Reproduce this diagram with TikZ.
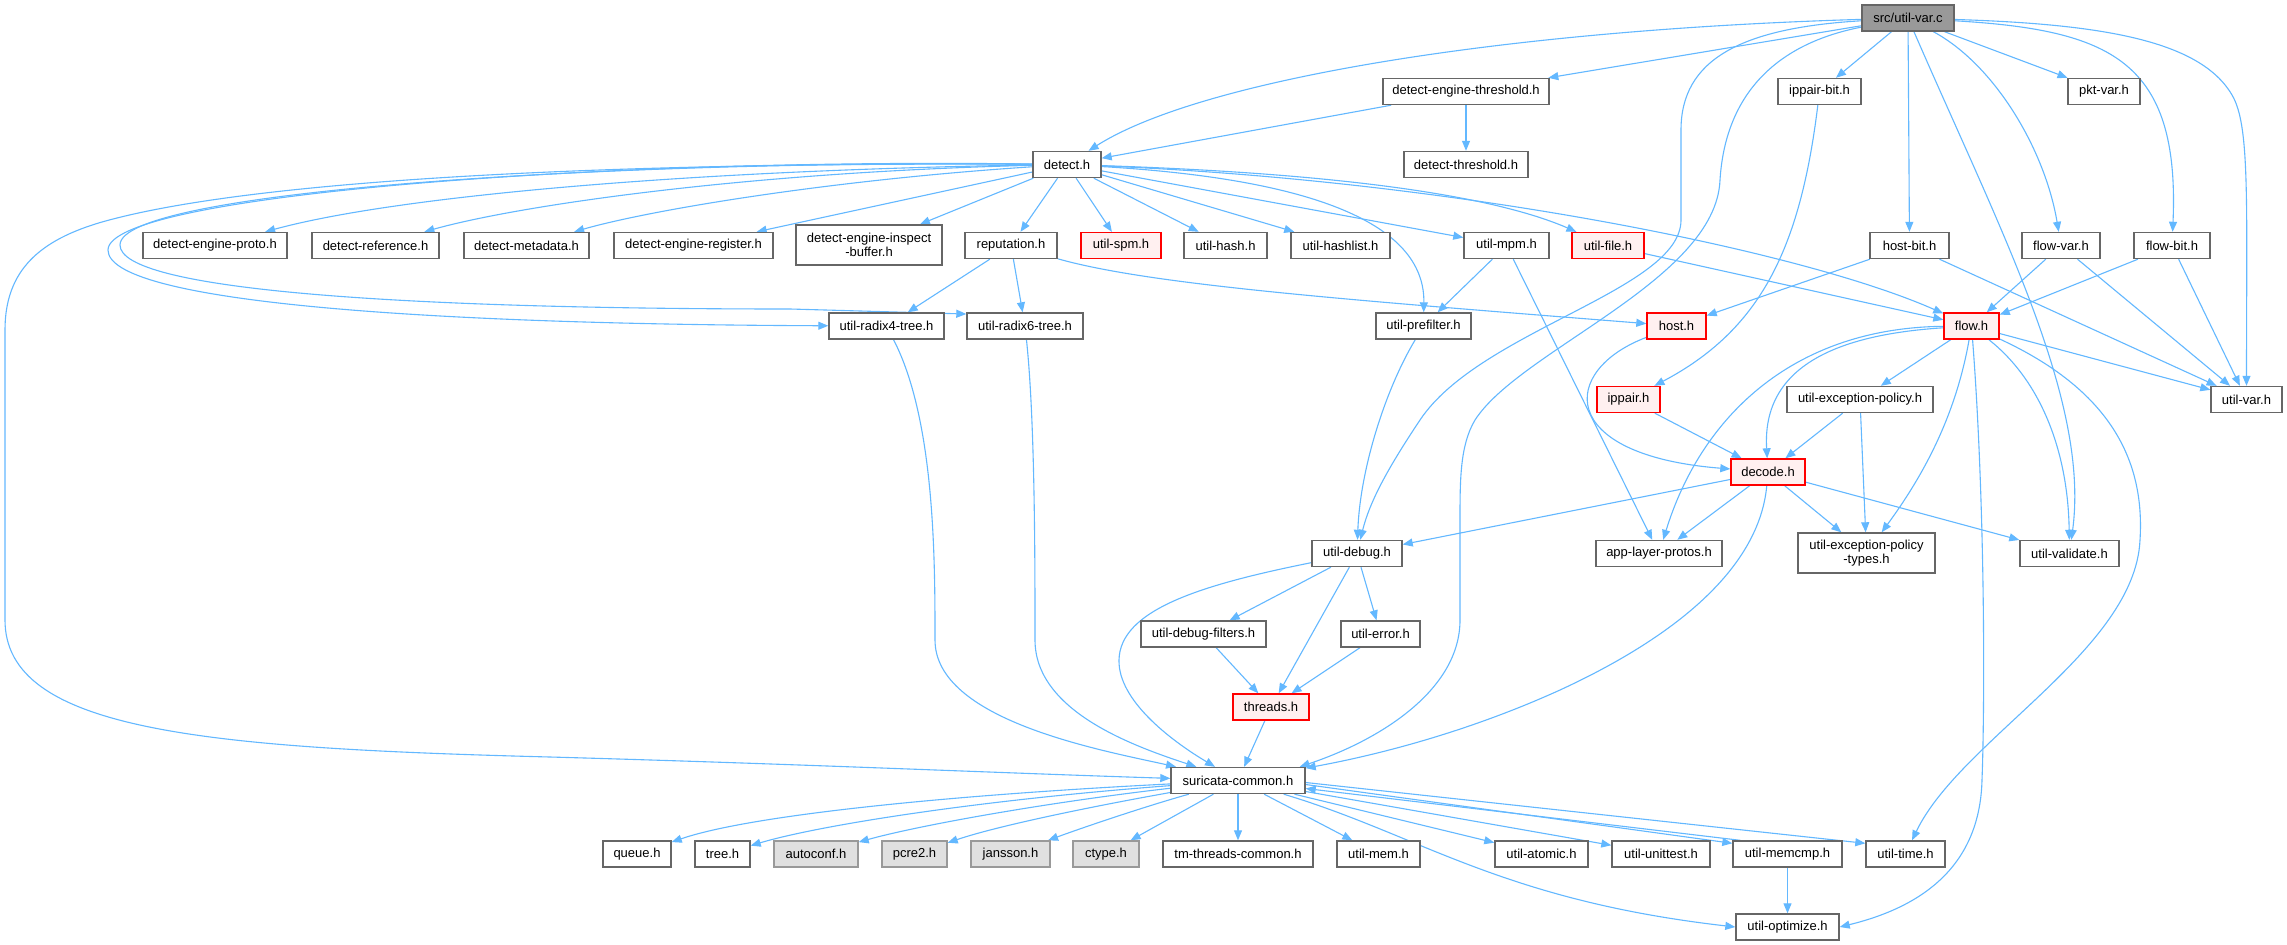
\documentclass[tikz,border=0pt]{standalone}
\usepackage{fontspec}
\setmainfont{Liberation Sans}
\usetikzlibrary{arrows.meta}
\pgfdeclarelayer{bg}
\pgfsetlayers{bg,main}
\definecolor{edgec}{HTML}{63B8FF}
\definecolor{bord}{HTML}{666666}
\definecolor{redfill}{HTML}{FFF0F0}
\definecolor{grayfill}{HTML}{E0E0E0}
\definecolor{graybord}{HTML}{999999}
\definecolor{srcfill}{HTML}{999999}
\begin{document}
\begin{tikzpicture}[x=1pt,y=-1pt,
 box/.style={draw=bord, line width=1.4pt, fill=white, minimum height=26pt, inner sep=0pt, font=\fontsize{13}{14}\selectfont, align=center},
 tall/.style={minimum height=40pt},
 redbox/.style={box, draw=red, fill=redfill},
 graybox/.style={box, draw=graybord, fill=grayfill},
 srcbox/.style={box, fill=srcfill},
 lnk/.style={draw=edgec, line width=1.1pt, -{Triangle[length=10pt,width=8pt]}}]
\useasboundingbox (0,0) rectangle (2287,945);
% row 0-2
\node[srcbox, minimum width=92pt] (n0) at (1908,18) {src/util-var.c};
\node[box, minimum width=166pt] (n1) at (1466,91.5) {detect-engine-threshold.h};
\node[box, minimum width=83pt] (n2) at (1819.5,91.5) {ippair-bit.h};
\node[box, minimum width=72pt] (n3) at (2104,91.5) {pkt-var.h};
\node[box, minimum width=68pt] (n4) at (1067,164.5) {detect.h};
\node[box, minimum width=124pt] (n5) at (1466,164.5) {detect-threshold.h};
% row 3
\node[box, minimum width=144pt] (n6) at (215,245.5) {detect-engine-proto.h};
\node[box, minimum width=127pt] (n7) at (375.5,245.5) {detect-reference.h};
\node[box, minimum width=125pt] (n8) at (526.5,245.5) {detect-metadata.h};
\node[box, minimum width=159pt] (n9) at (693.5,245.5) {detect-engine-register.h};
\node[box, tall, minimum width=146pt] (n10) at (869,245) {detect-engine-inspect\\-buffer.h};
\node[box, minimum width=92pt] (n11) at (1011,245.5) {reputation.h};
\node[redbox, minimum width=80pt] (n12) at (1121,245.5) {util-spm.h};
\node[box, minimum width=83pt] (n13) at (1225.5,245.5) {util-hash.h};
\node[box, minimum width=99pt] (n14) at (1340.5,245.5) {util-hashlist.h};
\node[box, minimum width=85pt] (n15) at (1506.5,245.5) {util-mpm.h};
\node[redbox, minimum width=72pt] (n16) at (1608,245.5) {util-file.h};
\node[box, minimum width=79pt] (n17) at (1909.5,245.5) {host-bit.h};
\node[box, minimum width=78pt] (n18) at (2061,245.5) {flow-var.h};
\node[box, minimum width=76pt] (n19) at (2172,245.5) {flow-bit.h};
% row 4
\node[box, minimum width=115pt] (n20) at (886.5,326) {util-radix4-tree.h};
\node[box, minimum width=116pt] (n21) at (1025,326) {util-radix6-tree.h};
\node[box, minimum width=95pt] (n22) at (1423.5,326) {util-prefilter.h};
\node[redbox, minimum width=59pt] (n23) at (1676.5,326) {host.h};
\node[redbox, minimum width=55pt] (n24) at (1971.5,326) {flow.h};
% row 5
\node[redbox, minimum width=63pt] (n25) at (1628.5,399.5) {ippair.h};
\node[box, minimum width=146pt] (n26) at (1860,399.5) {util-exception-policy.h};
\node[box, minimum width=71pt] (n27) at (2246.5,399.5) {util-var.h};
% row 6
\node[redbox, minimum width=74pt] (n28) at (1768,472) {decode.h};
% row 7
\node[box, minimum width=90pt] (n29) at (1357,553.5) {util-debug.h};
\node[box, minimum width=126pt] (n30) at (1659,553.5) {app-layer-protos.h};
\node[box, tall, minimum width=137pt] (n31) at (1866.5,553) {util-exception-policy\\-types.h};
\node[box, minimum width=99pt] (n32) at (2069.5,553.5) {util-validate.h};
% row 8-10
\node[box, minimum width=125pt] (n33) at (1203.5,634) {util-debug-filters.h};
\node[box, minimum width=79pt] (n34) at (1380.5,634) {util-error.h};
\node[redbox, minimum width=76pt] (n35) at (1271,707) {threads.h};
\node[box, minimum width=134pt] (n36) at (1238,780.5) {suricata-common.h};
% row 11
\node[box, minimum width=68pt] (n37) at (637,854) {queue.h};
\node[box, minimum width=55pt] (n38) at (722.5,854) {tree.h};
\node[graybox, minimum width=84pt] (n39) at (816,854) {autoconf.h};
\node[graybox, minimum width=65pt] (n40) at (914.5,854) {pcre2.h};
\node[graybox, minimum width=79pt] (n41) at (1010.5,854) {jansson.h};
\node[graybox, minimum width=66pt] (n42) at (1106,854) {ctype.h};
\node[box, minimum width=150pt] (n43) at (1238,854) {tm-threads-common.h};
\node[box, minimum width=83pt] (n44) at (1378.5,854) {util-mem.h};
\node[box, minimum width=93pt] (n45) at (1541.5,854) {util-atomic.h};
\node[box, minimum width=98pt] (n46) at (1661,854) {util-unittest.h};
\node[box, minimum width=109pt] (n47) at (1787.5,854) {util-memcmp.h};
\node[box, minimum width=79pt] (n48) at (1905.5,854) {util-time.h};
\node[box, minimum width=103pt] (n49) at (1787.5,927) {util-optimize.h};

\begin{pgfonlayer}{bg}
\fill[white] (0,0) rectangle (2287,945);
% src/util-var.c
\draw[lnk] (n0) .. controls (1500,30) and (1200,80) .. (n4);
\draw[lnk] (n0) -- (n1);
\draw[lnk] (n0) -- (n2);
\draw[lnk] (n0) -- (n3);
\draw[lnk] (n0) -- (n17);
\draw[lnk] (n0) .. controls (1995,65) and (2045,150) .. (n18);
\draw[lnk] (n0) .. controls (2110,30) and (2180,60) .. (n19);
\draw[lnk] (n0) .. controls (2100,24) and (2200,40) .. (2232,95) .. controls (2250,125) and (2246.5,200) .. (n27);
\draw[lnk] (n0) .. controls (2000,230) and (2090,400) .. (n32);
\draw[lnk] (n0) .. controls (1740,28) and (1681,60) .. (1681,130) -- (1681,220) .. controls (1681,290) and (1480,330) .. (1420,420) .. controls (1390,465) and (1370,500) .. (n29);
\draw[lnk] (n0) .. controls (1770,45) and (1725,100) .. (1720,180) .. controls (1716,280) and (1520,350) .. (1475,420) .. controls (1460,445) and (1460,480) .. (1460,520) -- (1460,620) .. controls (1460,690) and (1380,740) .. ([xshift=-6pt]n36.north east);
% detect-engine-threshold.h
\draw[lnk] (n1) -- (n4);
\draw[lnk] (n1) -- (n5);
% detect.h
\draw[lnk] (n4) .. controls (700,170) and (400,195) .. (n6);
\draw[lnk] (n4) .. controls (750,172) and (520,205) .. (n7);
\draw[lnk] (n4) .. controls (830,180) and (650,210) .. (n8);
\draw[lnk] (n4) -- (n9);
\draw[lnk] (n4) -- (n10);
\draw[lnk] (n4) -- (n11);
\draw[lnk] (n4) -- (n12);
\draw[lnk] (n4) -- (n13);
\draw[lnk] (n4) -- (n14);
\draw[lnk] (n4) -- (n15);
\draw[lnk] (n4) .. controls (1300,172) and (1480,190) .. (n16);
\draw[lnk] (n4) .. controls (1450,180) and (1800,250) .. (n24);
\draw[lnk] (n4) .. controls (1330,180) and (1425,230) .. (n22);
\draw[lnk] (n4) .. controls (600,158) and (108,195) .. (108,250) .. controls (108,300) and (400,324) .. (n20);
\draw[lnk] (n4) .. controls (620,160) and (120,190) .. (120,245) .. controls (120,290) and (400,309) .. (790,309) -- ([yshift=12pt]n21.west);
\draw[lnk] (n4) .. controls (600,162) and (250,180) .. (102,222) .. controls (40,240) and (5,270) .. (5,330) -- (5,620) .. controls (5,730) and (200,748) .. (550,757) .. controls (800,764) and (1000,773) .. (n36);
% reputation.h
\draw[lnk] (n11) -- (n20);
\draw[lnk] (n11) -- (n21);
\draw[lnk] (n11) .. controls (1150,285) and (1350,300) .. (n23);
% util-mpm.h, util-file.h
\draw[lnk] (n15) -- (n22);
\draw[lnk] (n15) -- (n30);
\draw[lnk] (n16) -- (n24);
% host-bit, flow-var, flow-bit
\draw[lnk] (n17) -- (n23);
\draw[lnk] (n17) -- (n27);
\draw[lnk] (n18) -- (n24);
\draw[lnk] (n18) -- (n27);
\draw[lnk] (n19) -- (n24);
\draw[lnk] (n19) -- (n27);
% ippair-bit.h, host.h, ippair.h
\draw[lnk] (n2) .. controls (1800,250) and (1760,330) .. (n25);
\draw[lnk] (n23) .. controls (1560,370) and (1555,455) .. (n28);
\draw[lnk] (n25) -- (n28);
% util-exception-policy.h
\draw[lnk] (n26) -- (n28);
\draw[lnk] (n26) -- (n31);
% flow.h
\draw[lnk] (n24) -- (n26);
\draw[lnk] (n24) .. controls (1830,335) and (1762,370) .. (n28);
\draw[lnk] (n24) .. controls (1790,328) and (1700,420) .. (n30);
\draw[lnk] (n24) .. controls (1955,420) and (1920,480) .. (n31);
\draw[lnk] (n24) .. controls (1985,500) and (1985,700) .. (1982,780) .. controls (1980,860) and (1930,905) .. (n49.east);
\draw[lnk] (n24) .. controls (2110,390) and (2145,460) .. (2140,540) .. controls (2135,650) and (1960,740) .. (n48);
\draw[lnk] (n24) -- (n27);
\draw[lnk] (n24) .. controls (2040,380) and (2068,450) .. (n32);
% decode.h
\draw[lnk] (n28) -- (n29);
\draw[lnk] (n28) -- (n30);
\draw[lnk] (n28) -- (n31);
\draw[lnk] (n28) -- (n32);
\draw[lnk] (n28) .. controls (1760,560) and (1690,630) .. (1560,690) .. controls (1450,740) and (1350,760) .. (n36);
% util-debug.h
\draw[lnk] (n29) -- (n33);
\draw[lnk] (n29) -- (n34);
\draw[lnk] (n29) -- (n35);
\draw[lnk] (n29) .. controls (1200,585) and (1120,610) .. (1119,660) .. controls (1118,700) and (1170,740) .. (n36);
% util-prefilter.h, radix trees
\draw[lnk] (n22) .. controls (1385,390) and (1360,470) .. (n29);
\draw[lnk] (n20) .. controls (935,420) and (935,560) .. (935,640) .. controls (935,720) and (1100,750) .. (n36);
\draw[lnk] (n21) .. controls (1035,420) and (1035,560) .. (1035,640) .. controls (1035,710) and (1130,745) .. (n36);
% threads
\draw[lnk] (n33) -- (n35);
\draw[lnk] (n34) -- (n35);
\draw[lnk] (n35) -- (n36);
% suricata-common.h
\draw[lnk] (n36) .. controls (950,795) and (750,815) .. (n37);
\draw[lnk] (n36) .. controls (980,800) and (820,825) .. (n38);
\draw[lnk] (n36) .. controls (1050,802) and (920,825) .. (n39);
\draw[lnk] (n36) .. controls (1100,805) and (1000,825) .. (n40);
\draw[lnk] (n36) .. controls (1150,805) and (1090,825) .. (n41);
\draw[lnk] (n36) -- (n42);
\draw[lnk] (n36) -- (n43);
\draw[lnk] (n36) -- (n44);
\draw[lnk] (n36) -- (n45);
\draw[lnk] ([yshift=-11pt]n36.east) -- (n46);
\draw[lnk] ([yshift=-4pt]n36.east) -- ([yshift=-3pt]n47.north west);
\draw[lnk] ([xshift=8pt]n47.north west) -- ([yshift=-8pt]n36.east);
\draw[lnk] ([yshift=-2pt]n36.east) -- ([yshift=-3pt]n48.north west);
\draw[lnk] (n36) .. controls (1420,835) and (1500,900) .. (n49.west);
\draw[lnk] (n47) -- (n49);
\end{pgfonlayer}
\end{tikzpicture}
\end{document}
